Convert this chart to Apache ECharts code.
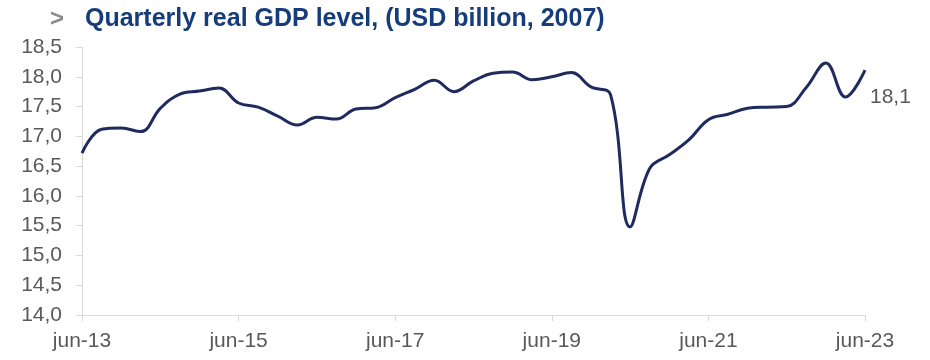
<!DOCTYPE html>
<html>
<head>
<meta charset="utf-8">
<script src="https://cdn.jsdelivr.net/npm/echarts@6/dist/echarts.min.js"></script>
<style>
  html, body { margin: 0; padding: 0; background: #ffffff; }
  #chart { width: 930px; height: 360px; }
</style>
</head>
<body>
<div id="chart"></div>
<script>
// Quarter labels, jun-13 through jun-23
const quarters = [
  'jun-13','sep-13','dic-13','mar-14','jun-14','sep-14','dic-14','mar-15',
  'jun-15','sep-15','dic-15','mar-16','jun-16','sep-16','dic-16','mar-17',
  'jun-17','sep-17','dic-17','mar-18','jun-18','sep-18','dic-18','mar-19',
  'jun-19','sep-19','dic-19','mar-20','jun-20','sep-20','dic-20','mar-21',
  'jun-21','sep-21','dic-21','mar-22','jun-22','sep-22','dic-22','mar-23',
  'jun-23'
];

// Real GDP level, USD billion (2007 prices), quarterly
const gdpLevel = [
  16.72, 17.12, 17.14, 17.08, 17.47, 17.71, 17.76, 17.81,
  17.56, 17.49, 17.34, 17.19, 17.32, 17.29, 17.46, 17.48,
  17.65, 17.79, 17.94, 17.75, 17.93, 18.06, 18.08, 17.95,
  18.00, 18.07, 17.83, 17.70, 15.48, 16.46, 16.69, 16.94,
  17.28, 17.37, 17.47, 17.49, 17.50, 17.82, 18.23, 17.66,
  18.11
];

// Value axis range
const yMin = 14.0;
const yMax = 18.5;
const yStep = 0.5;

const titleText = 'Quarterly real GDP level, (USD billion, 2007)';

const fmt = v => v.toFixed(1).replace('.', ',');
const font = 'Liberation Sans, Arial, sans-serif';
const axisGrey = '#d9d9d9';
const textGrey = '#595959';

const chart = echarts.init(document.getElementById('chart'), null, { renderer: 'canvas' });
chart.setOption({
  animation: false,
  backgroundColor: '#ffffff',
  title: {
    left: 45,
    top: 2,
    text: '{arrow|>}{main|' + titleText + '}',
    textStyle: {
      rich: {
        arrow: { color: '#8c8c8c', fontSize: 24, fontWeight: 'bold', fontFamily: font, width: 35 },
        main: { color: '#163d7a', fontSize: 25, fontWeight: 'bold', fontFamily: font }
      }
    }
  },
  grid: { left: 82, right: 65, top: 47, bottom: 45, containLabel: false },
  xAxis: {
    type: 'category',
    data: quarters,
    boundaryGap: false,
    axisLine: { show: true, lineStyle: { color: axisGrey, width: 1 } },
    axisTick: { show: true, interval: 7, length: 6, lineStyle: { color: axisGrey } },
    axisLabel: {
      interval: 7,
      margin: 16,
      color: textGrey,
      fontSize: 21,
      fontFamily: font
    },
    splitLine: { show: false }
  },
  yAxis: {
    type: 'value',
    min: yMin,
    max: yMax,
    interval: yStep,
    axisLine: { show: true, lineStyle: { color: axisGrey, width: 1 } },
    axisTick: { show: true, length: 6, lineStyle: { color: axisGrey } },
    axisLabel: {
      margin: 20,
      color: textGrey,
      fontSize: 21,
      fontFamily: font,
      formatter: v => fmt(v)
    },
    splitLine: { show: false }
  },
  series: [{
    type: 'line',
    data: gdpLevel,
    smooth: 0.4,
    showSymbol: false,
    symbol: 'none',
    lineStyle: { color: '#1f2a5e', width: 3 },
    endLabel: {
      show: true,
      distance: 5,
      offset: [0, 27],
      color: textGrey,
      fontSize: 21,
      fontFamily: font,
      formatter: p => fmt(p.value)
    }
  }]
});
</script>
</body>
</html>
